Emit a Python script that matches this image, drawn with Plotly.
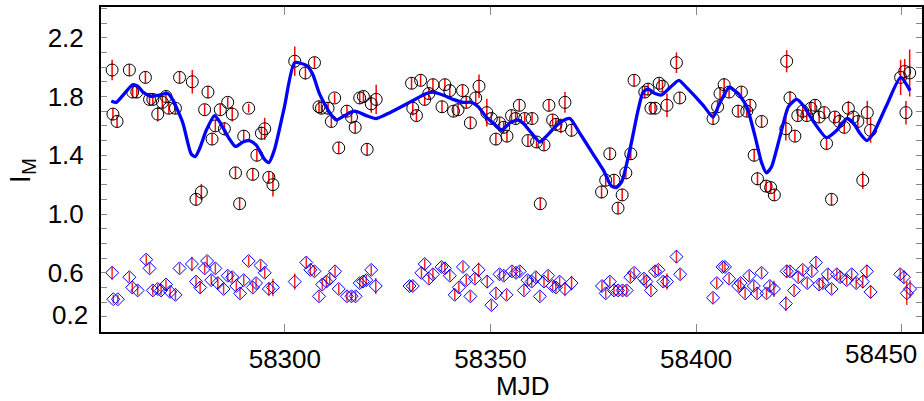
import plotly.graph_objects as go

# --- I_M light curve (black circles, red error bars) ---
mjd_im = [
    58258.0, 58258.2, 58259.2, 58262.2, 58263.0, 58264.0, 58266.1, 58267.1, 58267.9, 58269.1,
    58270.2, 58271.1, 58271.8, 58273.4, 58274.4, 58277.5, 58278.4, 58279.7, 58280.5, 58281.3,
    58282.3, 58283.1, 58284.3, 58285.3, 58286.1, 58287.2, 58288.0, 58289.0, 58290.0, 58291.2,
    58292.2, 58293.2, 58294.3, 58295.1, 58296.1, 58297.1, 58302.4, 58305.0, 58307.2, 58308.3,
    58308.9, 58310.5, 58311.3, 58312.1, 58313.1, 58315.1, 58316.2, 58317.1, 58318.2, 58319.1,
    58320.0, 58321.0, 58322.2, 58330.8, 58331.1, 58332.0, 58333.0, 58334.0, 58335.0, 58336.0,
    58338.2, 58338.9, 58340.1, 58341.0, 58342.1, 58343.2, 58344.1, 58345.1, 58346.4, 58347.2,
    58349.1, 58350.2, 58351.3, 58352.2, 58353.2, 58354.0, 58355.1, 58356.1, 58357.0, 58358.3,
    58359.1, 58360.1, 58361.2, 58362.1, 58363.0, 58364.2, 58365.1, 58365.9, 58367.1, 58368.1,
    58369.7, 58377.0, 58378.0, 58379.0, 58380.0, 58381.0, 58382.0, 58382.9, 58384.1, 58384.9,
    58387.5, 58388.3, 58389.0, 58390.0, 58391.0, 58391.8, 58392.9, 58395.2, 58396.0, 58404.1,
    58405.2, 58405.8, 58406.8, 58408.0, 58410.2, 58411.0, 58412.3, 58413.1, 58414.1, 58414.9,
    58415.9, 58417.0, 58418.1, 58419.0, 58421.8, 58422.0, 58422.8, 58424.0, 58424.7, 58425.9,
    58426.9, 58427.9, 58428.9, 58429.9, 58431.1, 58431.7, 58432.9, 58433.7, 58434.8, 58436.0,
    58437.0, 58438.2, 58439.3, 58440.5, 58441.6, 58442.4, 58449.7, 58450.7, 58451.0, 58451.9,
]
im_val = [
    1.98, 1.68, 1.63, 1.98, 1.83, 1.83, 1.93, 1.78, 1.78, 1.68,
    1.76, 1.80, 1.72, 1.72, 1.93, 1.90, 1.10, 1.15, 1.71, 1.83,
    1.51, 1.60, 1.71, 1.58, 1.76, 1.68, 1.28, 1.07, 1.53, 1.72,
    1.27, 1.40, 1.55, 1.58, 1.25, 1.20, 2.04, 1.96, 2.03, 1.73,
    1.72, 1.72, 1.63, 1.79, 1.45, 1.70, 1.66, 1.59, 1.79, 1.80,
    1.44, 1.75, 1.78, 1.89, 1.72, 1.67, 1.91, 1.78, 1.82, 1.88,
    1.73, 1.88, 1.84, 1.70, 1.71, 1.84, 1.76, 1.62, 1.79, 1.87,
    1.69, 1.65, 1.51, 1.62, 1.59, 1.53, 1.67, 1.65, 1.74, 1.65,
    1.50, 1.65, 1.49, 1.07, 1.47, 1.74, 1.64, 1.61, 1.60, 1.76,
    1.57, 1.15, 1.23, 1.41, 1.23, 1.04, 1.13, 1.28, 1.41, 1.91,
    1.83, 1.85, 1.72, 1.72, 1.89, 1.87, 1.74, 2.03, 1.79, 1.65,
    1.73, 1.82, 1.88, 1.83, 1.70, 1.83, 1.70, 1.74, 1.40, 1.24,
    1.63, 1.19, 1.18, 1.13, 1.58, 2.04, 1.79, 1.53, 1.67, 1.70,
    1.67, 1.72, 1.74, 1.66, 1.69, 1.48, 1.10, 1.66, 1.63, 1.59,
    1.72, 1.66, 1.63, 1.23, 1.69, 1.57, 1.93, 1.97, 1.69, 1.96,
]
im_err = [
    0.07, 0.04, 0.04, 0.04, 0.04, 0.04, 0.04, 0.04, 0.04, 0.05,
    0.04, 0.04, 0.04, 0.04, 0.04, 0.08, 0.04, 0.055, 0.04, 0.04,
    0.04, 0.04, 0.04, 0.045, 0.035, 0.05, 0.04, 0.04, 0.04, 0.03,
    0.04, 0.04, 0.045, 0.075, 0.04, 0.08, 0.10, 0.045, 0.04, 0.04,
    0.04, 0.04, 0.04, 0.035, 0.04, 0.04, 0.04, 0.04, 0.04, 0.04,
    0.04, 0.06, 0.10, 0.04, 0.05, 0.04, 0.04, 0.04, 0.04, 0.04,
    0.04, 0.04, 0.04, 0.04, 0.04, 0.04, 0.04, 0.04, 0.05, 0.08,
    0.095, 0.04, 0.04, 0.04, 0.04, 0.04, 0.04, 0.04, 0.04, 0.04,
    0.04, 0.04, 0.04, 0.04, 0.04, 0.04, 0.04, 0.04, 0.05, 0.07,
    0.045, 0.045, 0.04, 0.04, 0.04, 0.04, 0.04, 0.04, 0.04, 0.04,
    0.04, 0.04, 0.04, 0.04, 0.04, 0.04, 0.08, 0.07, 0.04, 0.04,
    0.04, 0.04, 0.045, 0.04, 0.04, 0.04, 0.04, 0.04, 0.04, 0.045,
    0.04, 0.04, 0.04, 0.04, 0.08, 0.075, 0.045, 0.04, 0.04, 0.04,
    0.04, 0.04, 0.04, 0.04, 0.04, 0.04, 0.04, 0.04, 0.05, 0.04,
    0.05, 0.04, 0.04, 0.06, 0.08, 0.085, 0.12, 0.085, 0.08, 0.16,
]

# --- lower series (blue diamonds, red error bars) ---
mjd_low = [
    58258.0, 58258.3, 58259.4, 58262.2, 58262.9, 58264.2, 58266.3, 58267.1, 58267.9, 58269.1,
    58269.9, 58271.1, 58272.1, 58273.4, 58274.4, 58277.4, 58278.4, 58279.4, 58280.5, 58281.1,
    58282.1, 58283.1, 58283.7, 58285.1, 58286.1, 58287.2, 58288.2, 58289.1, 58290.0, 58291.2,
    58292.2, 58293.0, 58294.1, 58295.1, 58296.1, 58297.1, 58302.4, 58305.2, 58306.2, 58307.2,
    58308.3, 58309.1, 58310.1, 58310.9, 58312.2, 58313.1, 58315.1, 58316.2, 58317.2, 58318.2,
    58319.0, 58319.8, 58321.0, 58322.1, 58330.3, 58331.1, 58333.2, 58334.0, 58335.0, 58336.0,
    58338.1, 58338.9, 58340.1, 58341.3, 58342.3, 58343.3, 58344.1, 58345.1, 58346.2, 58347.1,
    58349.2, 58350.2, 58351.3, 58352.2, 58353.2, 58353.9, 58355.2, 58356.2, 58357.1, 58358.1,
    58359.0, 58360.0, 58361.0, 58362.0, 58363.0, 58364.0, 58365.1, 58365.9, 58366.8, 58368.1,
    58369.7, 58377.1, 58378.0, 58379.0, 58380.0, 58381.0, 58382.1, 58383.1, 58384.0, 58384.9,
    58387.3, 58387.9, 58389.0, 58390.0, 58390.8, 58392.0, 58392.9, 58395.2, 58396.1, 58404.1,
    58405.0, 58406.4, 58407.0, 58408.0, 58410.2, 58410.8, 58411.9, 58412.9, 58414.0, 58414.8,
    58415.9, 58417.1, 58417.9, 58418.9, 58421.8, 58422.0, 58422.8, 58423.8, 58424.8, 58425.9,
    58427.0, 58428.1, 58429.1, 58429.9, 58430.8, 58432.0, 58432.9, 58434.2, 58435.0, 58436.6,
    58437.8, 58438.9, 58440.5, 58441.5, 58442.4, 58449.6, 58450.5, 58451.2, 58452.0,
]
low_val = [
    0.60, 0.42, 0.42, 0.57, 0.50, 0.48, 0.69, 0.63, 0.48, 0.49,
    0.48, 0.52, 0.47, 0.45, 0.63, 0.66, 0.54, 0.50, 0.63, 0.68,
    0.55, 0.63, 0.53, 0.49, 0.58, 0.57, 0.51, 0.46, 0.55, 0.68,
    0.50, 0.53, 0.65, 0.60, 0.49, 0.50, 0.54, 0.67, 0.62, 0.61,
    0.44, 0.52, 0.54, 0.56, 0.61, 0.49, 0.44, 0.44, 0.44, 0.53,
    0.54, 0.55, 0.62, 0.51, 0.51, 0.51, 0.60, 0.66, 0.56, 0.59,
    0.64, 0.63, 0.58, 0.45, 0.50, 0.64, 0.55, 0.44, 0.56, 0.62,
    0.54, 0.38, 0.46, 0.59, 0.58, 0.45, 0.61, 0.60, 0.61, 0.48,
    0.55, 0.54, 0.57, 0.44, 0.54, 0.58, 0.51, 0.50, 0.54, 0.49,
    0.53, 0.51, 0.46, 0.54, 0.48, 0.48, 0.48, 0.48, 0.57, 0.60,
    0.56, 0.54, 0.48, 0.61, 0.62, 0.54, 0.54, 0.71, 0.59, 0.43,
    0.53, 0.64, 0.64, 0.56, 0.51, 0.53, 0.46, 0.58, 0.51, 0.46,
    0.60, 0.46, 0.51, 0.49, 0.39, 0.61, 0.61, 0.48, 0.57, 0.62,
    0.53, 0.61, 0.67, 0.52, 0.53, 0.59, 0.49, 0.59, 0.57, 0.55,
    0.59, 0.53, 0.54, 0.61, 0.47, 0.59, 0.57, 0.46, 0.49,
]
low_err = [
    0.045, 0.03, 0.03, 0.035, 0.035, 0.035, 0.035, 0.035, 0.035, 0.035,
    0.035, 0.035, 0.035, 0.035, 0.035, 0.05, 0.035, 0.04, 0.035, 0.035,
    0.035, 0.035, 0.04, 0.035, 0.035, 0.035, 0.035, 0.035, 0.035, 0.035,
    0.035, 0.035, 0.035, 0.035, 0.045, 0.06, 0.055, 0.035, 0.035, 0.035,
    0.035, 0.035, 0.035, 0.035, 0.035, 0.035, 0.035, 0.035, 0.035, 0.035,
    0.035, 0.035, 0.035, 0.055, 0.035, 0.035, 0.035, 0.035, 0.035, 0.035,
    0.035, 0.035, 0.035, 0.035, 0.035, 0.035, 0.035, 0.035, 0.035, 0.05,
    0.045, 0.035, 0.035, 0.035, 0.035, 0.035, 0.035, 0.035, 0.035, 0.035,
    0.035, 0.035, 0.035, 0.035, 0.035, 0.035, 0.035, 0.035, 0.035, 0.045,
    0.05, 0.035, 0.035, 0.035, 0.035, 0.035, 0.035, 0.035, 0.035, 0.035,
    0.035, 0.035, 0.035, 0.035, 0.035, 0.035, 0.055, 0.045, 0.035, 0.035,
    0.035, 0.035, 0.035, 0.035, 0.035, 0.035, 0.035, 0.035, 0.035, 0.035,
    0.035, 0.035, 0.035, 0.055, 0.05, 0.045, 0.035, 0.035, 0.035, 0.035,
    0.035, 0.035, 0.035, 0.035, 0.035, 0.035, 0.035, 0.035, 0.035, 0.035,
    0.035, 0.035, 0.045, 0.045, 0.045, 0.035, 0.045, 0.08, 0.06,
]

# --- smooth model curve (blue) ---
mjd_fit = [
    58257.8, 58259.0, 58261.0, 58263.0, 58264.2, 58265.5, 58267.5, 58269.5, 58271.5, 58272.7,
    58275.2, 58277.2, 58278.2, 58279.2, 58280.9, 58282.9, 58284.1, 58286.1, 58288.0, 58289.8,
    58291.4, 58293.0, 58295.1, 58296.1, 58297.5, 58299.9, 58302.4, 58305.3, 58306.8, 58308.4,
    58310.9, 58312.5, 58314.5, 58317.0, 58319.8, 58322.2, 58325.5, 58330.3, 58334.4, 58336.0,
    58338.4, 58340.9, 58343.3, 58345.4, 58347.0, 58349.0, 58351.0, 58352.7, 58354.7, 58356.7,
    58357.9, 58360.0, 58362.0, 58363.6, 58365.6, 58367.3, 58369.3, 58371.7, 58374.9, 58377.4,
    58379.4, 58380.6, 58381.9, 58383.9, 58385.9, 58387.1, 58388.3, 58390.0, 58391.6, 58393.6,
    58395.8, 58397.7, 58401.7, 58404.1, 58405.5, 58408.0, 58410.2, 58412.3, 58414.3, 58415.9,
    58417.1, 58418.3, 58420.4, 58422.4, 58424.4, 58426.0, 58428.5, 58431.7, 58434.2, 58436.6,
    58438.2, 58439.8, 58441.5, 58443.1, 58446.3, 58449.7, 58452.0,
]
fit_val = [
    1.77, 1.76, 1.82, 1.88, 1.87, 1.83, 1.80, 1.81, 1.82, 1.78,
    1.62, 1.41, 1.39, 1.44, 1.57, 1.67, 1.63, 1.53, 1.46, 1.49,
    1.50, 1.47, 1.37, 1.35, 1.44, 1.73, 2.03, 2.01, 1.95, 1.82,
    1.69, 1.64, 1.67, 1.70, 1.67, 1.65, 1.69, 1.76, 1.82, 1.83,
    1.81, 1.78, 1.76, 1.76, 1.73, 1.66, 1.61, 1.57, 1.62, 1.64,
    1.62, 1.55, 1.49, 1.53, 1.59, 1.63, 1.65, 1.55, 1.41, 1.30,
    1.19, 1.18, 1.22, 1.44, 1.71, 1.83, 1.85, 1.82, 1.81, 1.86,
    1.91, 1.86, 1.74, 1.66, 1.74, 1.86, 1.82, 1.73, 1.53, 1.35,
    1.28, 1.32, 1.53, 1.73, 1.78, 1.74, 1.63, 1.52, 1.57, 1.65,
    1.62, 1.55, 1.50, 1.55, 1.74, 1.93, 1.84,
]

# axis ticks; the two end labels (0.2 and 58450) are pulled inside the frame
x_ticks = [58300, 58350, 58400]
x_ticktext = ["58300", "58350", "58400"]
x_tick_step = 50
x_last_label = "58450"
y_ticks = [0.6, 1.0, 1.4, 1.8, 2.2]
y_ticktext = ["0.6", "1.0", "1.4", "1.8", "2.2"]
y_first_label = "0.2"
y_minor_step = 0.1

FONT = "Liberation Sans, Arial, Helvetica, sans-serif"

fig = go.Figure()

fig.add_trace(go.Scatter(
    x=mjd_im, y=im_val, mode="markers",
    marker=dict(symbol="circle-open", size=12, color="black", line=dict(width=1)),
    error_y=dict(type="data", array=im_err, color="red", thickness=1.5, width=0),
    showlegend=False,
))
fig.add_trace(go.Scatter(
    x=mjd_low, y=low_val, mode="markers",
    marker=dict(symbol="diamond-open", size=10, color="blue", line=dict(width=1)),
    error_y=dict(type="data", array=low_err, color="rgba(255,0,0,0.85)", thickness=1.5, width=0),
    showlegend=False,
))
fig.add_trace(go.Scatter(
    x=mjd_fit, y=fit_val, mode="lines",
    line=dict(color="#0000ff", width=3.3, shape="spline", smoothing=0.6),
    showlegend=False,
))

fig.update_layout(
    width=924, height=401,
    margin=dict(l=101, r=2, t=7, b=69),
    paper_bgcolor="white", plot_bgcolor="white",
    font=dict(family=FONT, size=26, color="black"),
)
fig.update_xaxes(
    range=[58255.3, 58454.9], tickvals=x_ticks, ticktext=x_ticktext,
    ticks="inside", ticklen=8, tickcolor="#888", tickwidth=1,
    minor=dict(tick0=x_ticks[0], dtick=x_tick_step, ticks="inside", ticklen=8,
               tickcolor="#888", tickwidth=1, showgrid=False),
    showline=True, linecolor="black", linewidth=2, mirror="allticks",
    showgrid=False, zeroline=False, ticklabelstandoff=3, automargin=False,
)
fig.update_yaxes(
    range=[0.197, 2.409], tickvals=y_ticks, ticktext=y_ticktext,
    ticks="inside", ticklen=6, tickcolor="#888", tickwidth=1,
    minor=dict(tick0=0.2, dtick=y_minor_step, ticks="inside", ticklen=6,
               tickcolor="#888", tickwidth=1, showgrid=False),
    showline=True, linecolor="black", linewidth=2, mirror="allticks",
    showgrid=False, zeroline=False, ticklabelstandoff=10, automargin=False,
)

fig.add_annotation(text=y_first_label, xref="paper", yref="paper", x=0, y=0.052,
                   xanchor="right", yanchor="middle", xshift=-11, showarrow=False,
                   font=dict(size=26))
fig.add_annotation(text=x_last_label, xref="paper", yref="paper", x=1, y=0,
                   xanchor="right", yanchor="middle", xshift=-3, yshift=-22,
                   showarrow=False, font=dict(size=26))
fig.add_annotation(text="I<sub>M</sub>", xref="paper", yref="paper", x=0, y=0.495,
                   xanchor="center", yanchor="middle", xshift=-79, textangle=-90,
                   showarrow=False, font=dict(size=29))
fig.add_annotation(text="MJD", xref="paper", yref="paper", x=0.513, y=0,
                   xanchor="center", yanchor="middle", yshift=-54, showarrow=False,
                   font=dict(size=26))

fig.write_html("out.html", config={"displayModeBar": False})

# drop the browser's default page margin so the figure sits at the window origin
with open("out.html", encoding="utf-8") as f:
    page = f.read()
page = page.replace("<head>", "<head><style>body{margin:0;}</style>", 1)
with open("out.html", "w", encoding="utf-8") as f:
    f.write(page)
